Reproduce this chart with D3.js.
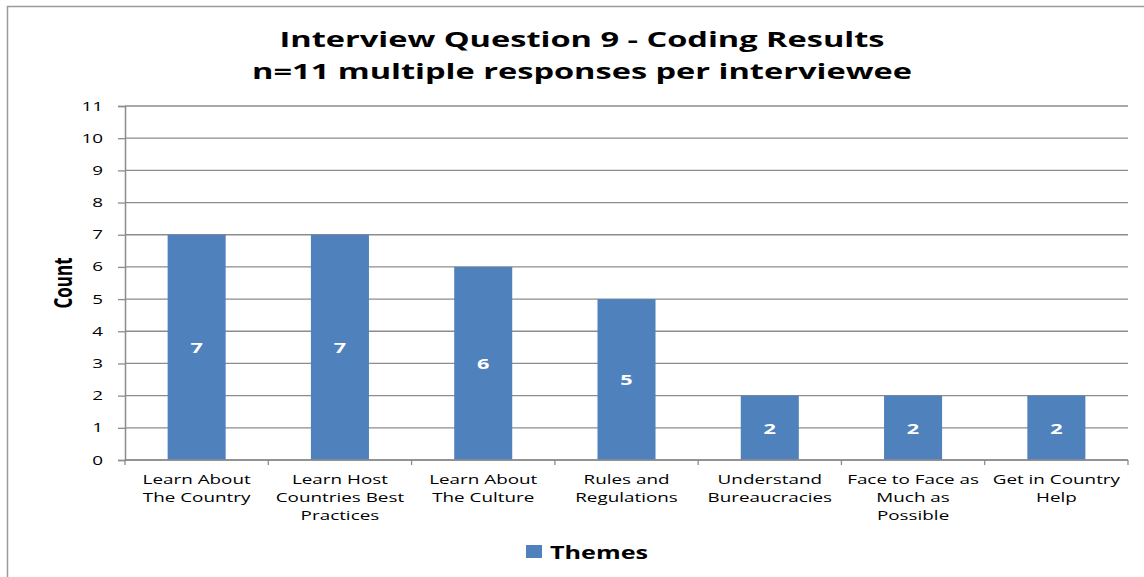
<!DOCTYPE html>
<html><head><meta charset="utf-8">
<script src="https://cdn.jsdelivr.net/npm/d3@7"></script>
<style>body{margin:0;background:#fff;}svg{display:block;}</style>
</head><body>
<script>
const categories = [
  ["Learn About", "The Country"],
  ["Learn Host", "Countries Best", "Practices"],
  ["Learn About", "The Culture"],
  ["Rules and", "Regulations"],
  ["Understand", "Bureaucracies"],
  ["Face to Face as", "Much as", "Possible"],
  ["Get in Country", "Help"]
];
const values = [7, 7, 6, 5, 2, 2, 2];
const yTicks = [0,1,2,3,4,5,6,7,8,9,10,11];
const titleLines = ["Interview Question 9 - Coding Results", "n=11 multiple responses per interviewee"];
const seriesName = "Themes";
const yLabel = "Count";

(function(){
const W = 1144, H = 577;
const SX = 1.45;
const svg = d3.select("body").append("svg").attr("width", W).attr("height", H);
svg.append("rect").attr("x", 7.5).attr("y", 6.5).attr("width", W + 10).attr("height", H + 10)
  .attr("fill", "#fff").attr("stroke", "#9a9a9a").attr("stroke-width", 1.5);

const pLeft = 125, pRight = 1128, pTop = 106, pBottom = 460;
const idx = values.map((d, i) => i);
const x = d3.scaleBand().domain(idx).range([pLeft, pRight]).paddingInner(0.595).paddingOuter(0.2975);
const y = d3.scaleLinear().domain([0, 11]).range([pBottom, pTop]);
const font = "'Open Sans', sans-serif";
const color = "#4f81bd";

svg.append("g").selectAll("line").data(yTicks).join("line")
  .attr("x1", pLeft).attr("x2", pRight).attr("y1", d => y(d)).attr("y2", d => y(d))
  .attr("stroke", "#8c8c8c").attr("stroke-width", 1.3);

const ya = svg.append("g").attr("transform", `translate(${pLeft},0)`)
  .call(d3.axisLeft(y).tickValues(yTicks).tickSize(7).tickFormat(""));
ya.select(".domain").attr("stroke", "#8c8c8c").attr("stroke-width", 1.5);
ya.selectAll(".tick line").attr("stroke", "#8c8c8c").attr("stroke-width", 1.3);
svg.append("g").selectAll("text").data(yTicks).join("text")
  .attr("transform", d => `translate(103,${y(d)}) scale(${SX},1)`)
  .attr("dy", "0.35em").attr("text-anchor", "end")
  .attr("font-family", font).attr("font-size", 13).attr("fill", "#000").text(d => d);

svg.append("g").selectAll("rect").data(values).join("rect")
  .attr("x", (d, i) => x(i)).attr("width", x.bandwidth())
  .attr("y", d => y(d)).attr("height", d => pBottom - y(d))
  .attr("fill", color);

svg.append("g").selectAll("text").data(values).join("text")
  .attr("transform", (d, i) => `translate(${x(i) + x.bandwidth() / 2},${y(d / 2)}) scale(${SX},1)`)
  .attr("dy", "0.38em").attr("text-anchor", "middle")
  .attr("font-family", font).attr("font-weight", "bold").attr("font-size", 15)
  .attr("fill", "#fff").text(d => d);

const step = (pRight - pLeft) / values.length;
const xa = svg.append("g");
xa.append("line").attr("x1", pLeft).attr("x2", pRight).attr("y1", pBottom).attr("y2", pBottom)
  .attr("stroke", "#8c8c8c").attr("stroke-width", 1.5);
xa.selectAll(".xt").data(d3.range(values.length + 1)).join("line").attr("class", "xt")
  .attr("x1", i => pLeft + i * step).attr("x2", i => pLeft + i * step)
  .attr("y1", pBottom).attr("y2", pBottom + 5).attr("stroke", "#8c8c8c").attr("stroke-width", 1.3);
const labs = xa.selectAll(".xl").data(categories).join("text").attr("class", "xl")
  .attr("transform", (d, i) => `translate(${x(i) + x.bandwidth() / 2},484) scale(${SX},1)`)
  .attr("text-anchor", "middle").attr("font-family", font).attr("font-size", 13).attr("fill", "#000");
labs.selectAll("tspan").data(d => d).join("tspan")
  .attr("x", 0).attr("dy", (d, i) => i === 0 ? 0 : 18).text(d => d);

svg.append("text").attr("transform", `translate(582,47) scale(1.48,1)`).attr("text-anchor", "middle")
  .attr("font-family", font).attr("font-weight", "bold").attr("font-size", 22)
  .selectAll("tspan").data(titleLines).join("tspan")
  .attr("x", 0).attr("dy", (d, i) => i === 0 ? 0 : 32).text(d => d);

svg.append("text").attr("transform", `translate(72,283) scale(1.48,1) rotate(-90)`)
  .attr("text-anchor", "middle").attr("font-family", font)
  .attr("font-weight", "bold").attr("font-size", 17).text(yLabel);

svg.append("rect").attr("x", 526).attr("y", 545).attr("width", 16).attr("height", 13).attr("fill", color);
svg.append("text").attr("transform", `translate(550,559) scale(1.4,1)`).attr("font-family", font).attr("font-weight", "bold")
  .attr("font-size", 18).text(seriesName);
})();
</script>
</body></html>
